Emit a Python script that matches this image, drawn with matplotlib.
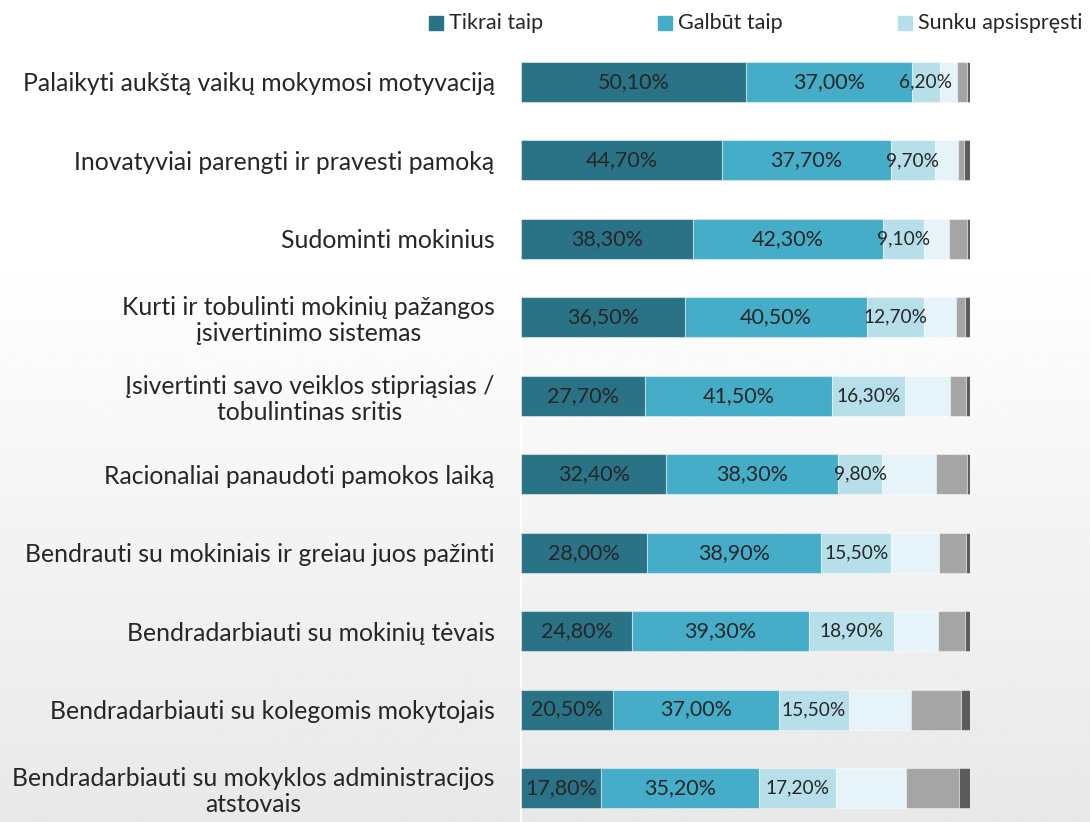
"""Stacked horizontal bars - teacher competence self-assessment
"""
import matplotlib as mpl
import matplotlib.pyplot as plt
import matplotlib.patches as mpatches
import numpy as np

mpl.rcParams['font.family'] = ['Lato', 'DejaVu Sans']

categories = ['Palaikyti aukštą vaikų mokymosi motyvaciją',
              'Inovatyviai parengti ir pravesti pamoką',
              'Sudominti mokinius',
              'Kurti ir tobulinti mokinių pažangos\nįsivertinimo sistemas',
              'Įsivertinti savo veiklos stipriąsias /\ntobulintinas sritis',
              'Racionaliai panaudoti pamokos laiką',
              'Bendrauti su mokiniais ir greiau juos pažinti',
              'Bendradarbiauti su mokinių tėvais',
              'Bendradarbiauti su kolegomis mokytojais',
              'Bendradarbiauti su mokyklos administracijos\natstovais']

# visible series (labelled)
tikrai_taip = [50.1, 44.7, 38.3, 36.5, 27.7, 32.4, 28.0, 24.8, 20.5, 17.8]
galbut_taip = [37.0, 37.7, 42.3, 40.5, 41.5, 38.3, 38.9, 39.3, 37.0, 35.2]
sunku = [6.2, 9.7, 9.1, 12.7, 16.3, 9.8, 15.5, 18.9, 15.5, 17.2]
# unlabelled remainder
series4 = [3.8, 5.3, 5.6, 7.1, 10.0, 12.0, 10.7, 9.8, 13.8, 15.6]
series5 = [2.2, 1.3, 4.0, 2.0, 3.6, 6.9, 6.0, 6.0, 11.1, 11.8]
series6 = [0.7, 1.3, 0.7, 1.2, 0.9, 0.6, 0.9, 1.2, 2.1, 2.4]

legend_labels = ['Tikrai taip', 'Galbūt taip', 'Sunku apsispręsti']
colors = ['#2a7387', '#45adc8', '#b7dfea', '#e6f4f9', '#a5a5a5', '#5b5b5b']
txt_col = '#262626'

W, H = 1090, 822
fig = plt.figure(figsize=(W / 100, H / 100), dpi=100)

# background gradient, white at top fading to light grey
bg = fig.add_axes([0, 0, 1, 1], zorder=-10)
yy = np.linspace(0, 1, 400)
shade = 1 - 0.09 * np.clip((yy - 0.3) / 0.7, 0, 1)
bg.imshow(np.tile(shade[:, None], (1, 2)), cmap='gray', vmin=0, vmax=1,
          aspect='auto', extent=[0, 1, 1, 0])
bg.set_axis_off()

ax = fig.add_axes([521 / W, 0, 449 / W, 1])
ax.patch.set_alpha(0)

y = np.arange(len(categories))
series = [tikrai_taip, galbut_taip, sunku, series4, series5, series6]
left = np.zeros(len(categories))
for i, vals in enumerate(series):
    ax.barh(y, vals, left=left, height=0.51, color=colors[i],
            edgecolor=(1, 1, 1, 0.45), linewidth=0.8, zorder=3)
    if i < 3:
        size = 15.5 if i < 2 else 13.8
        for yi, v, l in zip(y, vals, left):
            ax.text(l + v / 2, yi, '{:.2f}%'.format(v).replace('.', ','),
                    ha='center', va='center', fontsize=size, color=txt_col, zorder=4)
    left = left + np.array(vals)

ax.set_xlim(0, 100)
ax.set_ylim(9.434, -1.045)
ax.set_yticks(y)
ax.set_yticklabels(categories, fontsize=17.8, color=txt_col, linespacing=1.15)
for lab in ax.get_yticklabels():
    lab.set_multialignment('center')
ax.tick_params(axis='y', length=0, pad=19)
ax.set_xticks([])
for s in ['top', 'right', 'bottom']:
    ax.spines[s].set_visible(False)
ax.spines['left'].set_color('white')
ax.spines['left'].set_linewidth(1.5)

# legend row at the top (only first three series are visible in the crop)
leg_x = [429, 658, 898]
for xp, lab, c in zip(leg_x, legend_labels, colors[:3]):
    fig.patches.append(mpatches.Rectangle((xp / W, 1 - 30 / H), 14 / W, 14 / H,
                                          color=c, transform=fig.transFigure, figure=fig))
    fig.text((xp + 20) / W, 1 - 23 / H, lab, fontsize=15.5, color=txt_col,
             ha='left', va='center')

plt.savefig('out.png', dpi=100)
plt.close()
